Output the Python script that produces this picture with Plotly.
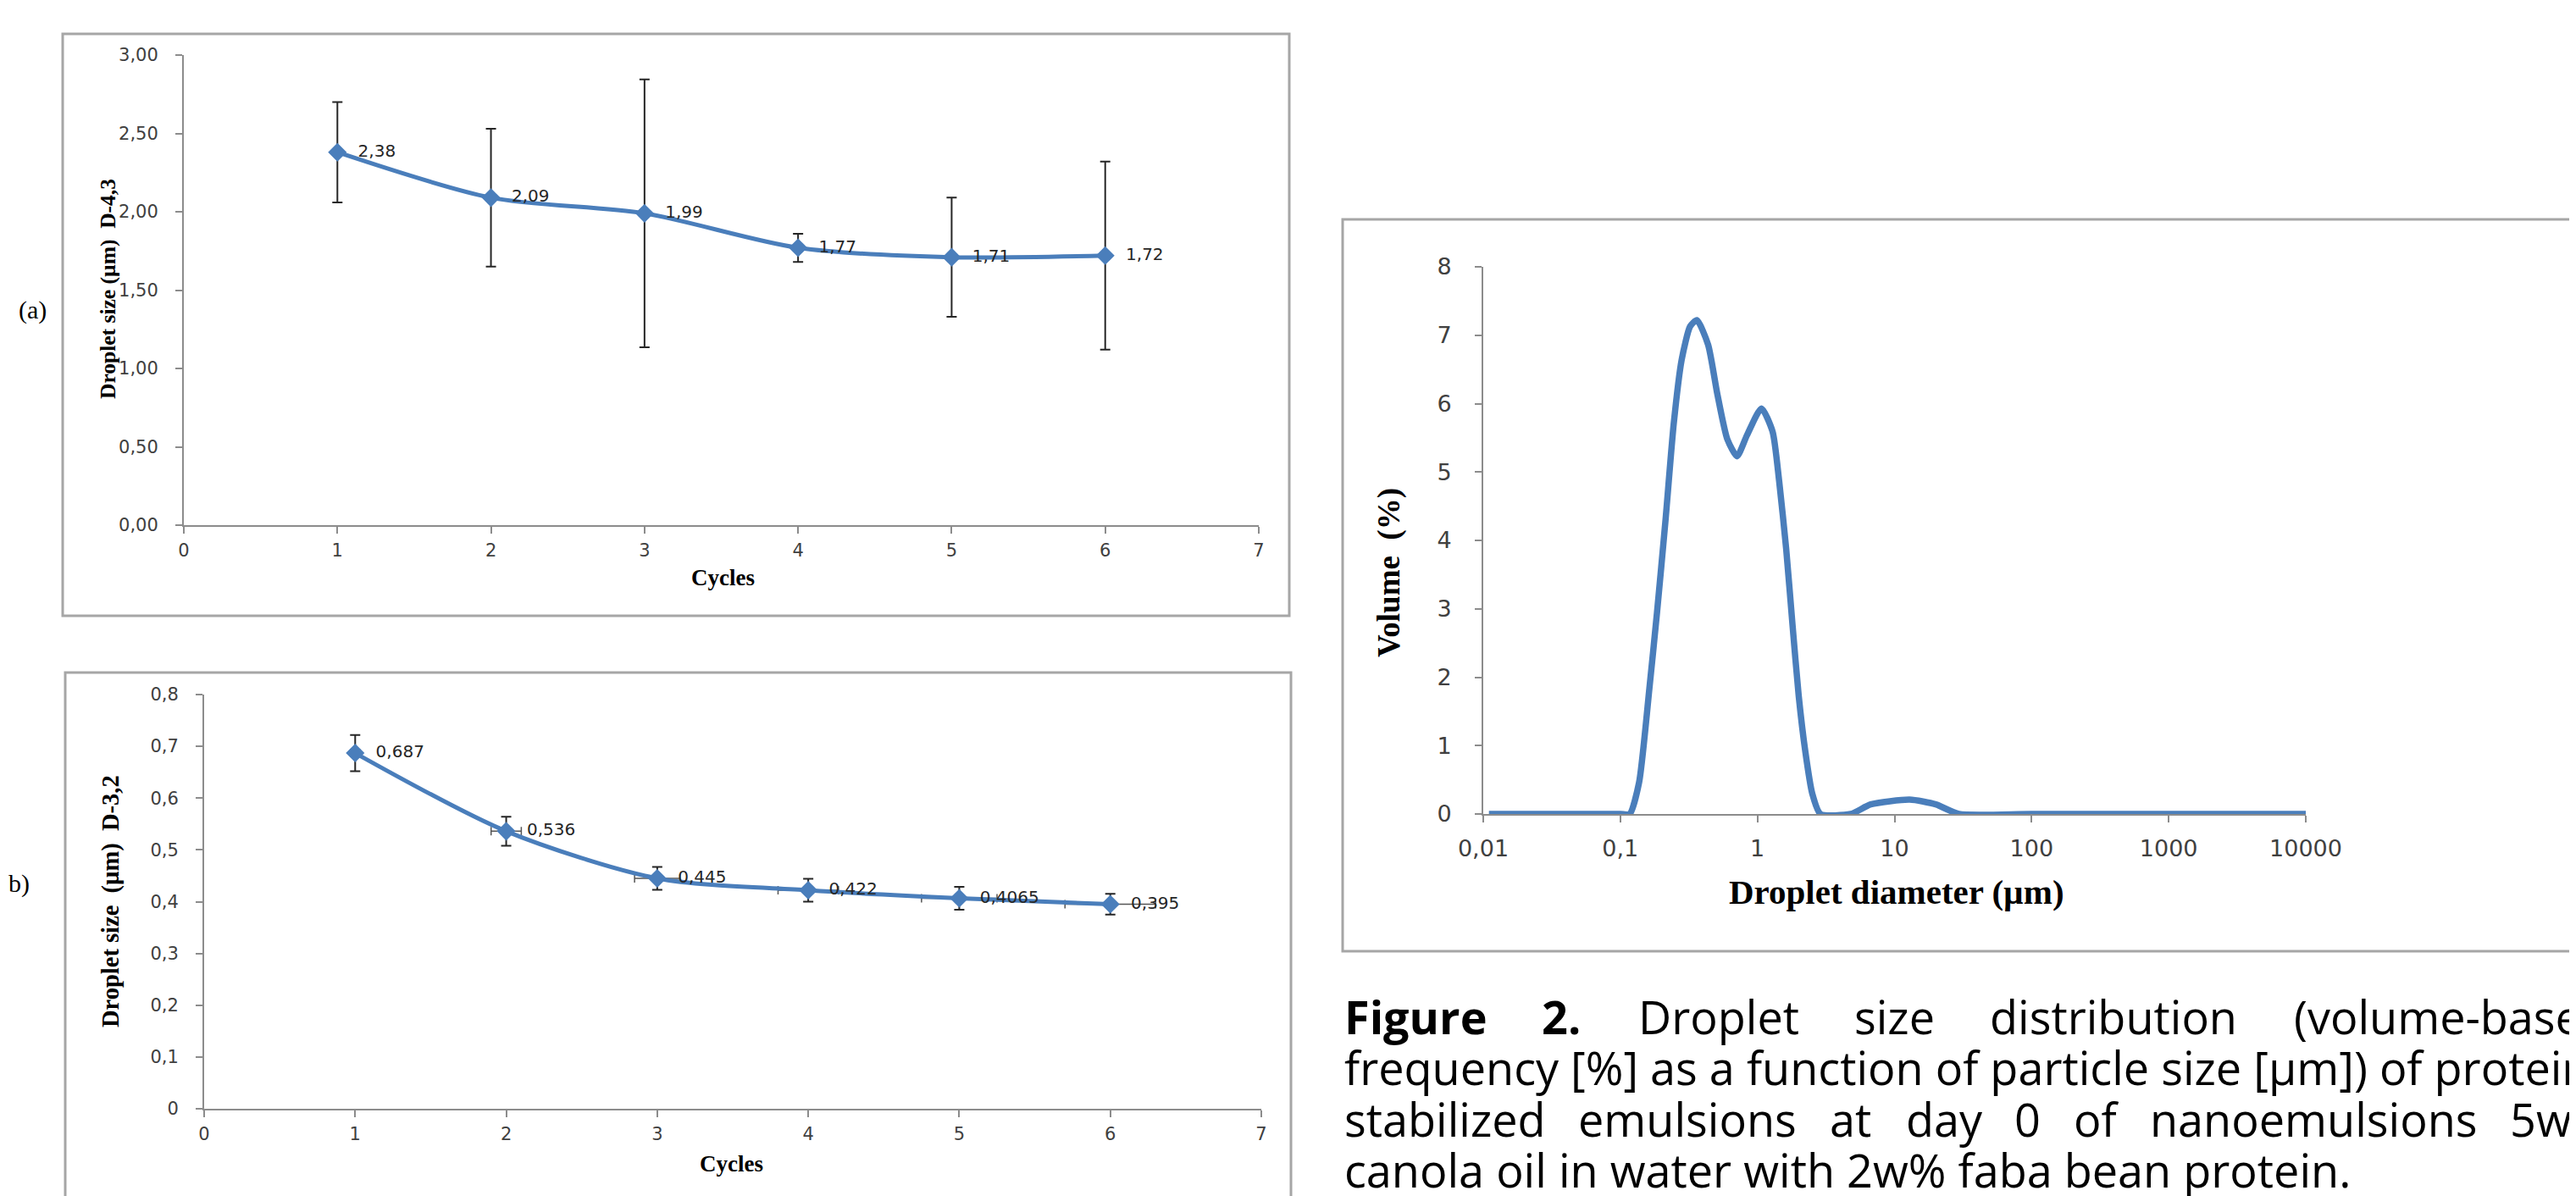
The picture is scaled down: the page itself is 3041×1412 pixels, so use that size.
import plotly.graph_objects as go

W, H = 3041, 1412

# ---------------- data ----------------
cycles = [1, 2, 3, 4, 5, 6]
d43 = [2.38, 2.09, 1.99, 1.77, 1.71, 1.72]
d43_err = [0.32, 0.44, 0.855, 0.09, 0.38, 0.60]

d32 = [0.687, 0.536, 0.445, 0.422, 0.4065, 0.395]
d32_err = [0.035, 0.028, 0.022, 0.022, 0.022, 0.02]
d32_xerr = [0.03, 0.1, 0.15, 0.2, 0.25, 0.3]

diam = [0.011, 0.05, 0.1, 0.117, 0.137, 0.163, 0.185, 0.213, 0.245, 0.28, 0.323, 0.362,
        0.437, 0.51, 0.603, 0.71, 0.84, 1.07, 1.29, 1.44, 1.62, 1.80, 2.0, 2.24, 2.51,
        2.88, 4.8, 6.7, 12.9, 20, 29.5, 100, 1000, 10000]
volume = [0, 0, 0, 0, 0.46, 1.84, 2.94, 4.27, 5.70, 6.64, 7.13, 7.22,
          6.86, 6.14, 5.48, 5.23, 5.54, 5.93, 5.59, 4.87, 3.88, 2.78, 1.73, 0.9, 0.3,
          0, 0, 0.14, 0.21, 0.14, 0, 0, 0, 0]

diam_ticks = [0.01, 0.1, 1, 10, 100, 1000, 10000]
diam_ticktext = ["0,01", "0,1", "1", "10", "100", "1000", "10000"]

caption_line1 = [("Figure", True), ("2.", True), ("Droplet", False), ("size", False),
                 ("distribution", False), ("(volume-based", False)]
caption_line2 = "frequency [%] as a function of particle size [µm]) of protein"
caption_line3 = ["stabilized", "emulsions", "at", "day", "0", "of", "nanoemulsions", "5w%"]
caption_line4 = "canola oil in water with 2w% faba bean protein."

# ---------------- helpers (pixel -> paper) ----------------
def X(px):
    return px / W

def Y(py):
    return 1 - py / H

BLUE = "#4a7ebb"
AXC = "#8c8c8c"
TICKC = "#404040"
GAP = "\u00a0\u00a0"

def fmt(v):
    return GAP + str(v).replace(".", ",")

fig = go.Figure()

# (a) D-4,3
fig.add_trace(go.Scatter(
    x=cycles, y=d43, mode="lines+markers+text",
    text=[fmt(v) for v in d43], textposition="middle right",
    textfont=dict(family="DejaVu Sans", size=20, color="#262626"),
    line=dict(color=BLUE, width=5, shape="spline", smoothing=0.8),
    marker=dict(symbol="diamond", size=17, color=BLUE),
    error_y=dict(type="data", array=d43_err, color="#262626", thickness=2, width=6),
    xaxis="x", yaxis="y", showlegend=False, cliponaxis=False))

# (b) D-3,2
fig.add_trace(go.Scatter(
    x=cycles, y=d32, mode="lines+markers+text",
    text=[fmt(v) for v in d32], textposition="middle right",
    textfont=dict(family="DejaVu Sans", size=20, color="#262626"),
    line=dict(color=BLUE, width=5, shape="spline", smoothing=0.8),
    marker=dict(symbol="diamond", size=17, color=BLUE),
    error_y=dict(type="data", array=d32_err, color="#262626", thickness=2, width=6),
    error_x=dict(type="data", array=d32_xerr, color="#555555", thickness=1.5, width=5),
    xaxis="x2", yaxis="y2", showlegend=False, cliponaxis=False))

# (c) size distribution
fig.add_trace(go.Scatter(
    x=diam, y=volume, mode="lines",
    line=dict(color=BLUE, width=7.5, shape="spline", smoothing=0.6),
    xaxis="x3", yaxis="y3", showlegend=False))

axis_common = dict(showline=True, linecolor=AXC, linewidth=2, ticks="outside",
                   ticklen=8, tickwidth=2, tickcolor=AXC, showgrid=False, zeroline=False,
                   mirror=False, automargin=False)

fig.update_layout(
    width=W, height=H, autosize=False,
    margin=dict(l=0, r=0, t=0, b=0, pad=0, autoexpand=False),
    paper_bgcolor="white", plot_bgcolor="white",
    separators=",.",
    xaxis=dict(domain=[X(209), X(1478)], range=[0, 7], dtick=1, anchor="y",
               tickfont=dict(family="DejaVu Sans", size=21, color=TICKC),
               ticklabelstandoff=2, **axis_common),
    yaxis=dict(domain=[Y(612), Y(57)], range=[0, 3], dtick=0.5, tickformat=".2f", anchor="x",
               tickfont=dict(family="DejaVu Sans", size=21, color=TICKC),
               ticklabelstandoff=16, **axis_common),
    xaxis2=dict(domain=[X(233), X(1481)], range=[0, 7], dtick=1, anchor="y2",
                tickfont=dict(family="DejaVu Sans", size=21, color=TICKC),
                ticklabelstandoff=2, **axis_common),
    yaxis2=dict(domain=[Y(1301), Y(812)], range=[0, 0.8], dtick=0.1, anchor="x2",
                tickfont=dict(family="DejaVu Sans", size=21, color=TICKC),
                ticklabelstandoff=16, **axis_common),
    xaxis3=dict(domain=[X(1743), X(2714)], type="log", range=[-2, 4], anchor="y3",
                tickvals=diam_ticks, ticktext=diam_ticktext,
                tickfont=dict(family="DejaVu Sans", size=27, color=TICKC),
                ticklabelstandoff=8, **axis_common),
    yaxis3=dict(domain=[Y(953), Y(307)], range=[0, 8], dtick=1, anchor="x3",
                tickfont=dict(family="DejaVu Sans", size=27, color=TICKC),
                ticklabelstandoff=22, **axis_common),
)

# frames
BOX = "#a6a6a6"
for (x0, y0, x1, y1) in [(66, 32, 1514, 719), (69, 786, 1516, 1411), (1577, 251, 3040, 1115)]:
    fig.add_shape(type="rect", xref="paper", yref="paper",
                  x0=X(x0), x1=X(x1), y0=Y(y1), y1=Y(y0),
                  line=dict(color=BOX, width=3), fillcolor="rgba(0,0,0,0)", layer="below")

ann = []
def add_text(txt, px, py, size, family="Liberation Serif", bold=False, angle=0,
             xanchor="center", yanchor="middle", color="black"):
    ann.append(dict(text=txt, x=X(px), y=Y(py), xref="paper", yref="paper",
                    showarrow=False, textangle=angle, xanchor=xanchor, yanchor=yanchor,
                    font=dict(family=family, size=size, color=color,
                              weight="bold" if bold else "normal")))

# axis titles
add_text("Droplet size (µm)  D-4,3", 120, 333, 25.5, bold=True, angle=-90)
add_text("Cycles", 845, 674, 27, bold=True)
add_text("Droplet size  (µm)  D-3,2", 123, 1056, 28.5, bold=True, angle=-90)
add_text("Cycles", 855, 1366, 27, bold=True)
add_text("Volume  (%)", 1632, 668, 37, bold=True, angle=-90)
add_text("Droplet diameter (µm)", 2231, 1045, 41, bold=True)
add_text("(a)", 30, 358, 30)
add_text("b)", 0, 1035, 30, xanchor="left")

# caption
CF = "Open Sans"
CS = 54
line1_x = [1577, 1810, 1924, 2179, 2339, 2698]
for (w, b), px in zip(caption_line1, line1_x):
    add_text(w, px, 1192, CS, family=CF, bold=b, xanchor="left")
add_text(caption_line2, 1577, 1252, CS, family=CF, xanchor="left")
line3_x = [1577, 1853, 2150, 2240, 2368, 2438, 2528, 2953]
for w, px in zip(caption_line3, line3_x):
    add_text(w, px, 1313, CS, family=CF, xanchor="left")
add_text(caption_line4, 1577, 1373, CS, family=CF, xanchor="left")

fig.update_layout(annotations=ann)

fig.write_html("out.html")
